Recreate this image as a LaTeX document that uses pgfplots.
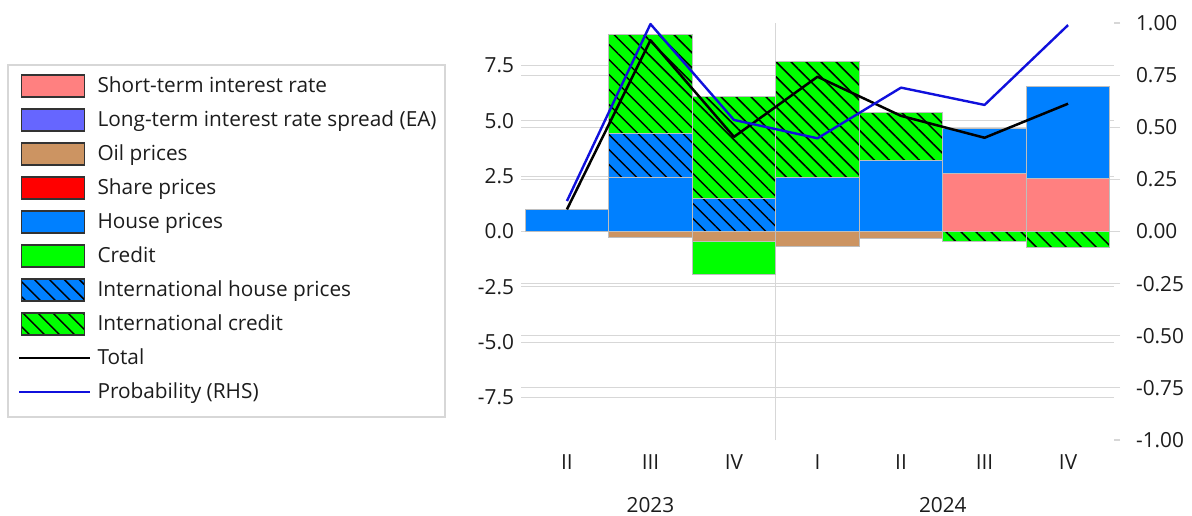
\documentclass[border=0pt]{standalone}
\usepackage{fontspec}
\setmainfont{Open Sans}
\usepackage{pgfplots}
\pgfplotsset{compat=1.18}
\usetikzlibrary{patterns.meta}

\definecolor{cST}{RGB}{255,128,128}
\definecolor{cLT}{RGB}{102,102,255}
\definecolor{cOil}{RGB}{204,148,98}
\definecolor{cSh}{RGB}{255,0,0}
\definecolor{cHP}{RGB}{0,128,255}
\definecolor{cCr}{RGB}{0,255,0}
\definecolor{cProb}{RGB}{16,16,220}
\definecolor{cGrid}{RGB}{215,215,215}
\definecolor{cBorder}{RGB}{190,190,190}
\definecolor{cTxt}{RGB}{28,28,28}

\tikzset{hatch/.style={postaction={pattern={Lines[angle=-45,distance=5.3pt,line width=0.75pt]},pattern color=black}}}

\pgfplotsset{
  base/.style={scale only axis, width=296.5pt, height=208.5pt,
    at={(260.5pt,37.5pt)}, anchor=south west, xmin=-0.55, xmax=6.55,
    axis line style={draw=none}, font=\fontsize{10.4}{12.5}\selectfont,
    tick label style={text=cTxt}, /pgf/number format/assume math mode=true},
  leftscale/.style={ymin=-9.43, ymax=9.43},
  bsty/.style={fill=#1, draw=cBorder, line width=0.5pt},
  myarea/.style={legend image code/.code={\draw[##1,draw=black!80,line width=0.6pt] (0pt,-5.5pt) rectangle (31.5pt,5.5pt);}},
  myline/.style={legend image code/.code={\draw[##1] (-1pt,0pt) -- (34.5pt,0pt);}},
}

\begin{document}
\begin{tikzpicture}
\path[use as bounding box] (0,0) rectangle (596pt,257.5pt);
\draw[cGrid, line width=0.6pt] (4pt,49pt) rectangle (222.5pt,225pt);

% positive contributions
\begin{axis}[base, leftscale, ybar stacked, bar width=1, clip=false,
  xtick={0,1,2,3,4,5,6}, xticklabels={II,III,IV,I,II,III,IV},
  xticklabel style={yshift=-4pt},
  ytick={-7.5,-5,-2.5,0,2.5,5,7.5},
  yticklabel style={/pgf/number format/.cd, fixed, fixed zerofill, precision=1},
  ymajorgrids, major grid style={cGrid, line width=0.5pt},
  extra y ticks={-7.0725,-4.715,-2.3575,2.3575,4.715,7.0725}, extra y tick labels={},
  extra y tick style={major tick length=0pt},
  extra x ticks={2.5}, extra x tick labels={},
  extra x tick style={xmajorgrids=true, major tick length=0pt, major grid style={cGrid, line width=0.4pt}},
  major tick length=0pt]
\addplot[bsty=cST] coordinates {(0,0) (1,0) (2,0) (3,0) (4,0) (5,2.62) (6,2.38)};
\addplot[bsty=cHP] coordinates {(0,1.0) (1,2.45) (2,0) (3,2.46) (4,3.19) (5,2.03) (6,4.16)};
\addplot[bsty=cHP, hatch] coordinates {(0,0) (1,1.98) (2,1.5) (3,0) (4,0) (5,0) (6,0)};
\addplot[bsty=cCr, hatch] coordinates {(0,0) (1,4.46) (2,4.59) (3,5.25) (4,2.19) (5,0) (6,0)};
\node[text=cTxt, inner sep=0pt] at (axis cs:1,-9.43) [yshift=-32.5pt] {2023};
\node[text=cTxt, inner sep=0pt] at (axis cs:4.5,-9.43) [yshift=-32.5pt] {2024};
\end{axis}

% negative contributions
\begin{axis}[base, leftscale, ybar stacked, bar width=1, hide axis]
\addplot[bsty=cOil] coordinates {(0,0) (1,-0.25) (2,-0.47) (3,-0.66) (4,-0.31) (5,0) (6,0)};
\addplot[bsty=cCr] coordinates {(0,0) (1,0) (2,-1.48) (3,0) (4,0) (5,0) (6,0)};
\addplot[bsty=cCr, hatch] coordinates {(0,0) (1,0) (2,0) (3,0) (4,0) (5,-0.46) (6,-0.73)};
\end{axis}

% total
\begin{axis}[base, leftscale, hide axis]
\addplot[black, line width=1.25pt, line join=round, mark=none] coordinates {(0,1.0) (1,8.65) (2,4.28) (3,7.0) (4,5.23) (5,4.24) (6,5.78)};
\end{axis}

% probability, right axis, legend
\begin{axis}[base, ymin=-1, ymax=1, clip=false,
  xtick=\empty, ytick={-1,-0.75,-0.5,-0.25,0,0.25,0.5,0.75,1},
  ytick pos=right, yticklabel pos=right, tick align=outside,
  major tick length=3pt, major tick style={cGrid, line width=0.6pt},
  yticklabel style={anchor=west, xshift=4.5pt, /pgf/number format/.cd, fixed, fixed zerofill, precision=2},
  legend cell align=left,
  legend style={at={(-0.8482,0.8897)}, anchor=north west, draw=none, fill=none,
    inner sep=0pt, outer sep=0pt, row sep=0pt, column sep=3pt,
    nodes={inner sep=0pt, minimum height=17pt, text=cTxt, font=\fontsize{10.4}{12.5}\selectfont}}]
\addlegendimage{myarea, fill=cST}
\addlegendentry{Short-term interest rate}
\addlegendimage{myarea, fill=cLT}
\addlegendentry{Long-term interest rate spread (EA)}
\addlegendimage{myarea, fill=cOil}
\addlegendentry{Oil prices}
\addlegendimage{myarea, fill=cSh}
\addlegendentry{Share prices}
\addlegendimage{myarea, fill=cHP}
\addlegendentry{House prices}
\addlegendimage{myarea, fill=cCr}
\addlegendentry{Credit}
\addlegendimage{myarea, fill=cHP, hatch}
\addlegendentry{International house prices}
\addlegendimage{myarea, fill=cCr, hatch}
\addlegendentry{International credit}
\addlegendimage{myline, black, line width=1.25pt}
\addlegendentry{Total}
\addplot[myline, cProb, line width=1.2pt, line join=round, mark=none] coordinates {(0,0.146) (1,0.995) (2,0.535) (3,0.447) (4,0.69) (5,0.607) (6,0.99)};
\addlegendentry{Probability (RHS)}
\end{axis}
\end{tikzpicture}
\end{document}
